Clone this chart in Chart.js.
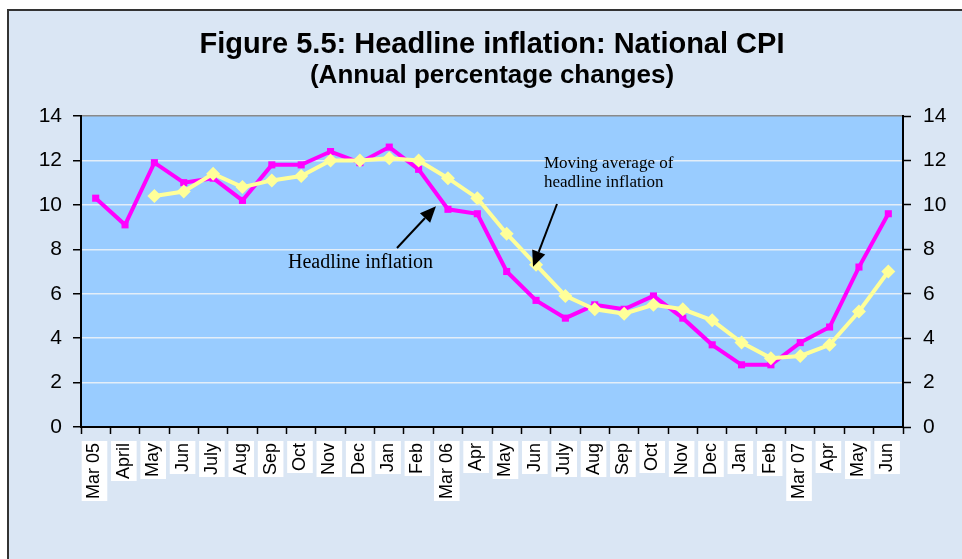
<!DOCTYPE html>
<html>
<head>
<meta charset="utf-8">
<script src="https://cdn.jsdelivr.net/npm/chart.js@4.4.1/dist/chart.umd.min.js"></script>
<style>
  html, body { margin: 0; padding: 0; background: #fff; }
  #wrap { width: 962px; height: 559px; position: relative; }
</style>
</head>
<body>
<div id="wrap"><canvas id="cpiChart"></canvas></div>
<script>
// months, Mar 05 .. Jun 07
const months = ["Mar 05", "April", "May", "Jun", "July", "Aug", "Sep", "Oct", "Nov", "Dec", "Jan", "Feb",
  "Mar 06", "Apr", "May", "Jun", "July", "Aug", "Sep", "Oct", "Nov", "Dec", "Jan", "Feb",
  "Mar 07", "Apr", "May", "Jun"];

const headline = [10.3, 9.1, 11.9, 11.0, 11.2, 10.2, 11.8, 11.8, 12.4, 11.9, 12.6, 11.6,
  9.8, 9.6, 7.0, 5.7, 4.9, 5.5, 5.3, 5.9, 4.9, 3.7, 2.8, 2.8, 3.8, 4.5, 7.2, 9.6];

const movingAvg = [null, null, 10.4, 10.6, 11.4, 10.8, 11.1, 11.3, 12.0, 12.0, 12.1, 12.0,
  11.2, 10.3, 8.7, 7.3, 5.9, 5.3, 5.1, 5.5, 5.3, 4.8, 3.8, 3.1, 3.2, 3.7, 5.2, 7.0];

const yTicks = [0, 2, 4, 6, 8, 10, 12, 14];

// page background, frame and plot fill
const backdrop = {
  id: "backdrop",
  beforeDraw(chart) {
    const { ctx, width, height, chartArea: a } = chart;
    ctx.save();
    ctx.fillStyle = "#ffffff";
    ctx.fillRect(0, 0, width, height);
    ctx.fillStyle = "#dae6f4";
    ctx.fillRect(8, 10, width - 8, height - 10);
    ctx.strokeStyle = "#333";
    ctx.lineWidth = 2;
    ctx.beginPath();
    ctx.moveTo(8, height);
    ctx.lineTo(8, 10);
    ctx.lineTo(width, 10);
    ctx.stroke();
    ctx.fillStyle = "#99ccff";
    ctx.fillRect(a.left, a.top, a.right - a.left, a.bottom - a.top);
    ctx.restore();
  }
};

function arrow(ctx, x1, y1, x2, y2) {
  const ang = Math.atan2(y2 - y1, x2 - x1);
  const len = 16, hw = 7;
  const bx = x2 - len * Math.cos(ang), by = y2 - len * Math.sin(ang);
  ctx.beginPath();
  ctx.moveTo(x1, y1);
  ctx.lineTo(bx, by);
  ctx.stroke();
  ctx.beginPath();
  ctx.moveTo(x2, y2);
  ctx.lineTo(bx + hw * Math.sin(ang), by - hw * Math.cos(ang));
  ctx.lineTo(bx - hw * Math.sin(ang), by + hw * Math.cos(ang));
  ctx.closePath();
  ctx.fill();
}

// text labels with arrows pointing at the two lines
const notes = {
  id: "notes",
  afterDatasetsDraw(chart) {
    const { ctx, scales: { x, y } } = chart;
    ctx.save();
    ctx.fillStyle = "#000";
    ctx.strokeStyle = "#000";
    ctx.lineWidth = 2;
    ctx.textBaseline = "alphabetic";
    ctx.font = "20px 'Liberation Serif', 'Times New Roman', serif";
    ctx.fillText("Headline inflation", 288, 268);
    ctx.font = "17px 'Liberation Serif', 'Times New Roman', serif";
    ctx.fillText("Moving average of", 544, 168);
    ctx.fillText("headline inflation", 544, 187);
    arrow(ctx, 397, 248, x.getPixelForValue(12) - 12, y.getPixelForValue(headline[12]) - 3);
    arrow(ctx, 557, 204, x.getPixelForValue(15) - 3, y.getPixelForValue(movingAvg[15]) + 2);
    ctx.restore();
  }
};

const yAxisBase = {
  min: 0,
  max: 14,
  afterBuildTicks: s => { s.ticks = yTicks.map(v => ({ value: v })); },
  border: { color: "#000", width: 2 },
  ticks: {
    color: "#000",
    font: { family: "'Liberation Sans', Arial, sans-serif", size: 21 }
  }
};

new Chart(document.getElementById("cpiChart"), {
  type: "line",
  data: {
    labels: months,
    datasets: [
      {
        label: "Headline inflation",
        data: headline,
        borderColor: "#ff00ff",
        backgroundColor: "#ff00ff",
        borderWidth: 4,
        pointStyle: "rect",
        pointRadius: 5,
        pointBorderWidth: 0,
        tension: 0,
        order: 2
      },
      {
        label: "Moving average of headline inflation",
        data: movingAvg,
        borderColor: "#ffff99",
        backgroundColor: "#ffff99",
        borderWidth: 4,
        pointStyle: "rectRot",
        pointRadius: 7,
        pointBorderWidth: 0,
        tension: 0,
        order: 1
      }
    ]
  },
  options: {
    responsive: true,
    maintainAspectRatio: false,
    animation: false,
    layout: { padding: 0 },
    plugins: {
      legend: { display: false },
      tooltip: { enabled: false },
      title: {
        display: true,
        fullSize: false,
        text: "Figure 5.5: Headline inflation: National CPI",
        color: "#000",
        font: { family: "'Liberation Sans', Arial, sans-serif", size: 29, weight: "bold", lineHeight: 1.2 },
        padding: { top: 27.6, bottom: 0 }
      },
      subtitle: {
        display: true,
        fullSize: false,
        text: "(Annual percentage changes)",
        color: "#000",
        font: { family: "'Liberation Sans', Arial, sans-serif", size: 26, weight: "bold", lineHeight: 1.05 },
        padding: { top: 0, bottom: 26.3 }
      }
    },
    scales: {
      x: {
        offset: true,
        afterFit: s => { s.height = 132; },
        border: { color: "#000", width: 2 },
        grid: {
          drawOnChartArea: false,
          offset: true,
          tickLength: 7,
          tickColor: "#000",
          tickWidth: 1.5
        },
        ticks: {
          autoSkip: false,
          minRotation: 90,
          maxRotation: 90,
          padding: 9,
          labelOffset: -12,
          color: "#000",
          showLabelBackdrop: true,
          backdropColor: "#ffffff",
          backdropPadding: 2,
          font: { family: "'Liberation Sans', Arial, sans-serif", size: 18 }
        }
      },
      y: {
        ...yAxisBase,
        position: "left",
        afterFit: s => { s.width = 81; },
        grid: {
          color: c => (c.tick && c.tick.value === 14 ? "#8a8a8a" : "#e4eef8"),
          lineWidth: 1.5,
          tickLength: 8,
          tickColor: "#000",
          tickWidth: 1.5
        },
        ticks: { ...yAxisBase.ticks, padding: 11 }
      },
      y2: {
        ...yAxisBase,
        position: "right",
        afterFit: s => { s.width = 59; },
        grid: {
          drawOnChartArea: false,
          tickLength: 8,
          tickColor: "#000",
          tickWidth: 1.5
        },
        ticks: { ...yAxisBase.ticks, padding: 12 }
      }
    }
  },
  plugins: [backdrop, notes]
});
</script>
</body>
</html>
